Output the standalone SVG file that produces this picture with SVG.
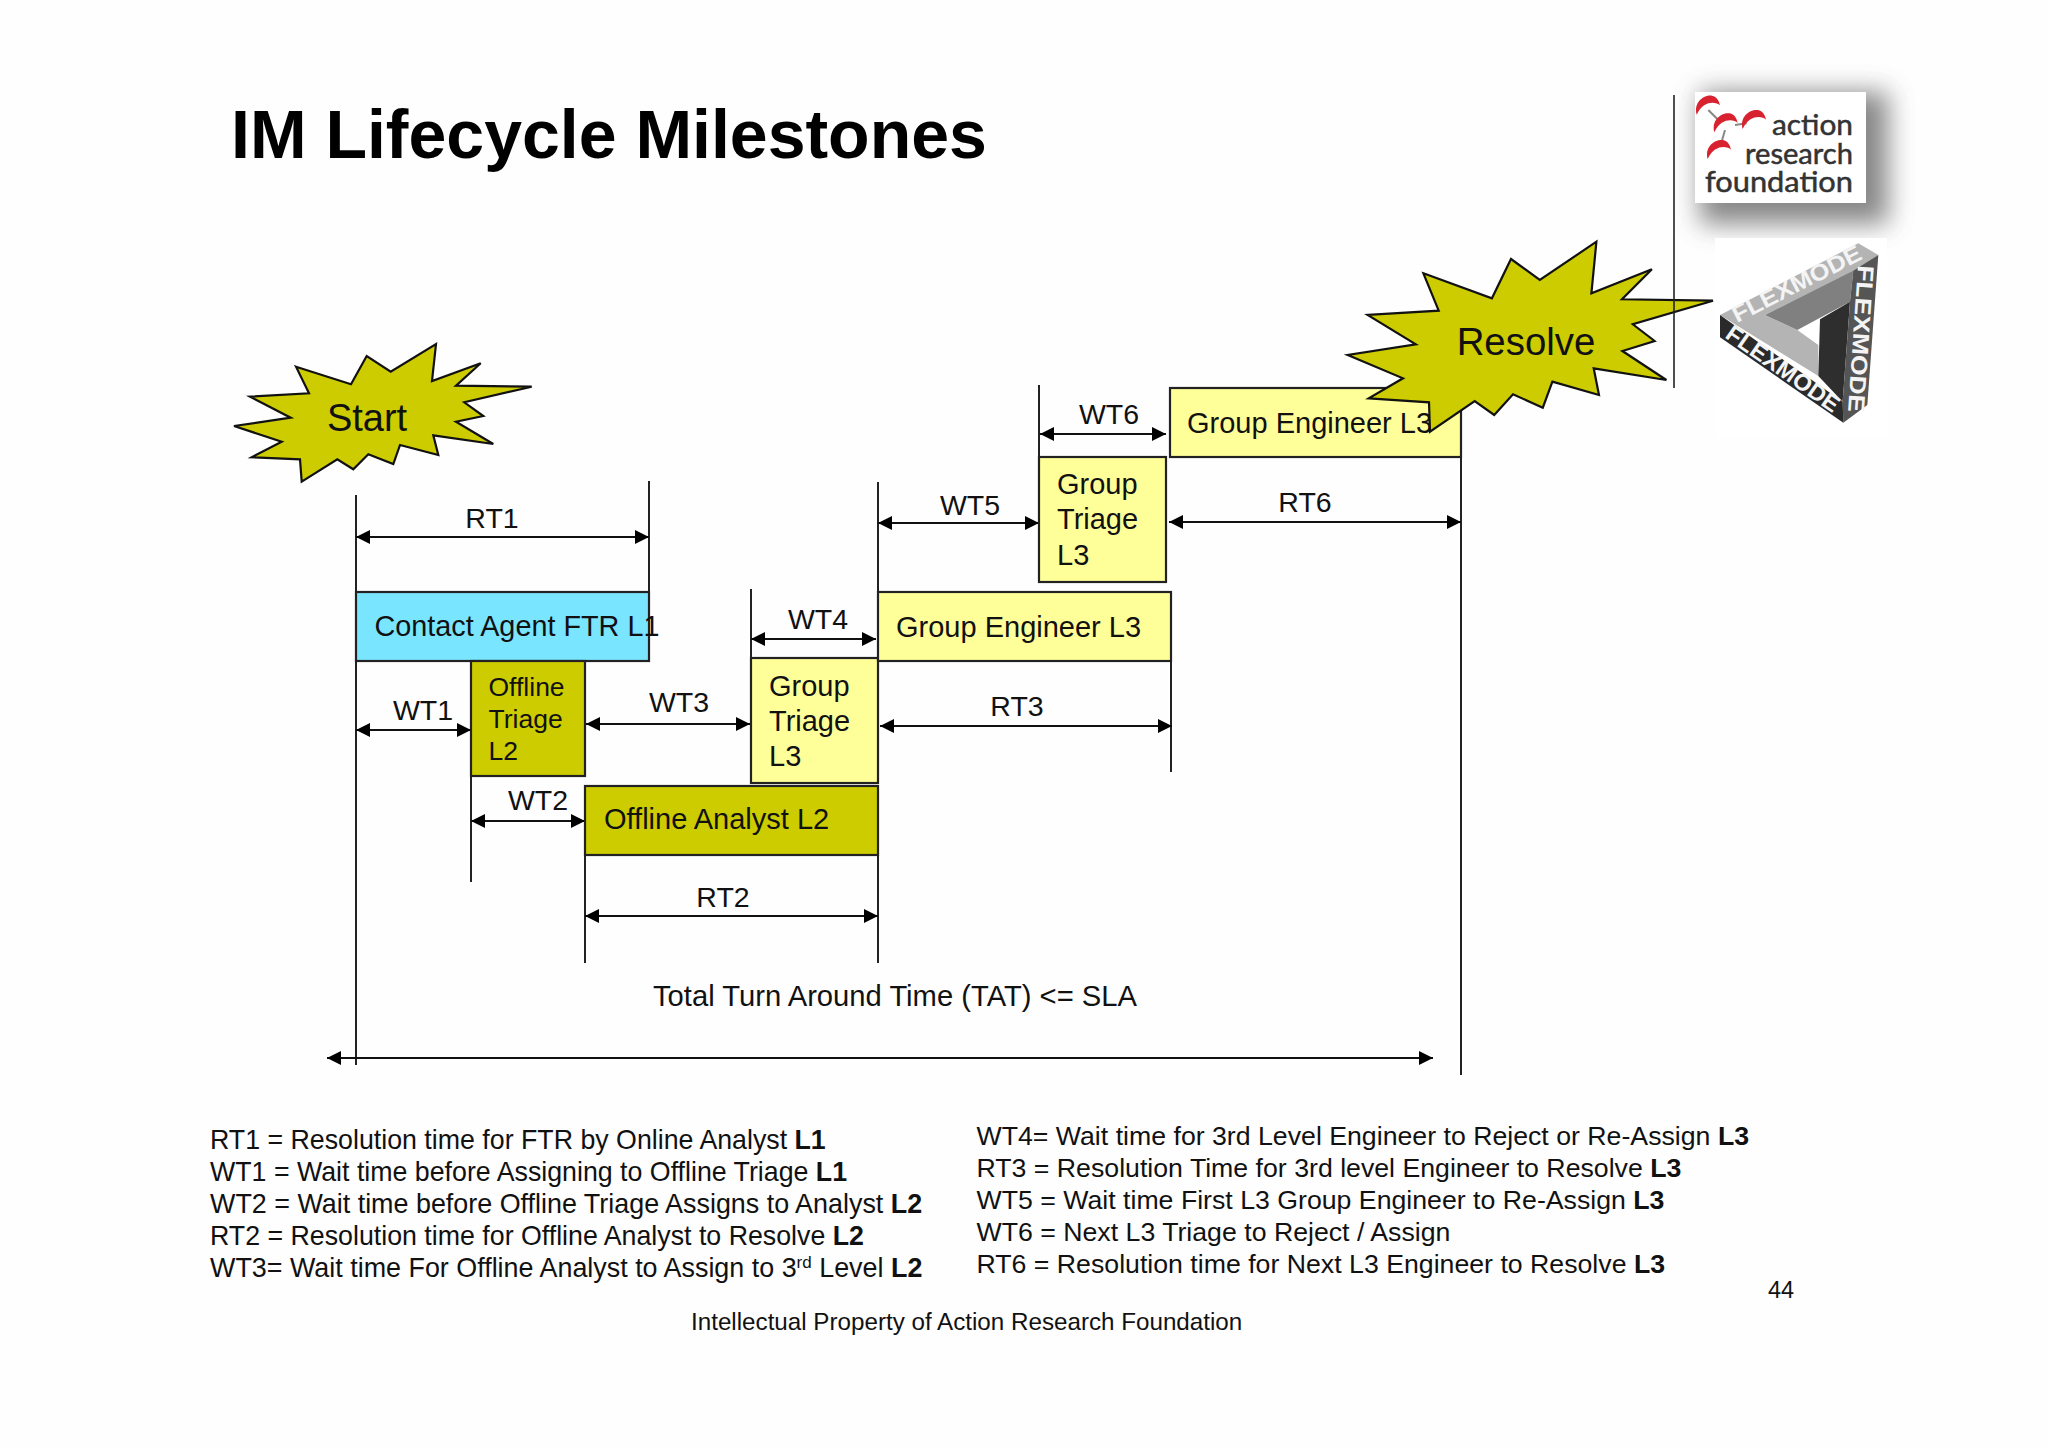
<svg xmlns="http://www.w3.org/2000/svg" width="2048" height="1448" viewBox="0 0 2048 1448">
<style>
text{font-family:"Liberation Sans",Arial,sans-serif;fill:#111}
.box{stroke:#222;stroke-width:2.2}
.cy{fill:#7ae5ff}.ol{fill:#cccc00}.ye{fill:#ffff99}
.t{font-size:29px}.t2{font-size:26.5px}.lb{font-size:28.5px;text-anchor:middle}
.star{fill:#cccc00;stroke:#111;stroke-width:2.2;stroke-linejoin:miter}
.sl{font-size:38px;text-anchor:middle}
.lg{font-size:26.75px}
.lgw{font-size:26.9px}
.lgr{font-size:26.7px}
.bd{font-weight:700}
.v{stroke:#222;stroke-width:2;fill:none}
.a{stroke:#111;stroke-width:2;fill:none;marker-start:url(#s);marker-end:url(#e)}
.fx{font-size:23px;font-weight:700;fill:#f4f4f4}
.lt{font-family:Lato,"Open Sans",sans-serif;font-size:29px;fill:#333;stroke:#333;stroke-width:.5}
</style>
<defs>
<marker id="e" markerUnits="userSpaceOnUse" markerWidth="14" markerHeight="14" refX="14" refY="7" orient="auto"><path d="M0 0L14 7L0 14Z" fill="#000"/></marker>
<marker id="s" markerUnits="userSpaceOnUse" markerWidth="14" markerHeight="14" refX="0" refY="7" orient="auto"><path d="M14 0L0 7L14 14Z" fill="#000"/></marker>
<filter id="blur" x="-30%" y="-30%" width="160%" height="160%"><feGaussianBlur stdDeviation="13"/></filter>
<path id="cres" d="M-32 22C-42 -16 -10 -38 14 -35C28 -33 36 -18 38 -6C26 -18 -12 -22 -32 22Z" fill="#d8222f"/>
</defs>
<rect width="2048" height="1448" fill="#fefefe"/>
<text id="title" x="231" y="158" font-size="68" class="bd" style="fill:#000">IM Lifecycle Milestones</text>

<g id="logo-arf">
<rect x="1700" y="92" width="188" height="132" fill="#555" opacity=".7" filter="url(#blur)"/>
<rect x="1695" y="92" width="171" height="111" fill="#fff"/>
<g transform="translate(1690 80) scale(.3333)">
<path d="M55 90L85 120M135 135L170 130M105 150L95 185" stroke="#888" stroke-width="6" fill="none"/>
<use href="#cres" x="52" y="82"/><use href="#cres" x="105" y="135"/><use href="#cres" x="190" y="125"/><use href="#cres" x="85" y="215"/>
</g>
<text class="lt" x="1772" y="135" textLength="81" lengthAdjust="spacingAndGlyphs">action</text>
<text class="lt" x="1745" y="164" textLength="108" lengthAdjust="spacingAndGlyphs">research</text>
<text class="lt" x="1705" y="192" textLength="148" lengthAdjust="spacingAndGlyphs">foundation</text>
</g>
<g id="logo-flexmode">
<rect x="1715" y="238" width="172" height="200" fill="#fff"/>
<g transform="translate(1710 230) scale(.3333)">
<path d="M30 255L445 40L505 75L430 125L165 255L262 300L325 345L325 438Z" fill="#b4b4b4"/>
<path d="M165 255L430 122L420 215L262 300Z" fill="#808080"/>
<path d="M420 215L330 268L325 438L398 515Z" fill="#2e2e2e"/>
<path d="M505 75L430 122L420 215L398 515L400 578L472 525Z" fill="#555"/>
<path d="M30 255L398 515L400 578L30 322Z" fill="#2a2a2a"/>
</g>
<text class="fx" transform="translate(1737 323) rotate(-27)" textLength="142" lengthAdjust="spacingAndGlyphs">FLEXMODE</text>
<text class="fx" transform="translate(1724 337) rotate(35)" textLength="133" lengthAdjust="spacingAndGlyphs">FLEXMODE</text>
<text class="fx" transform="translate(1858 265) rotate(93.9)" textLength="147" lengthAdjust="spacingAndGlyphs">FLEXMODE</text>
</g>

<g id="connectors">
<path class="v" d="M356 495V1065M649 481V592M471 775V882M585 853V963M878 853V963M751 589V657M878 482V591M1171 660V772M1039 385V456M1461 456V1075"/>
<path class="a" d="M356 537H649"/>
<path class="a" d="M356 730H471"/>
<path class="a" d="M586 724H750"/>
<path class="a" d="M471 821H585"/>
<path class="a" d="M585 916H878"/>
<path class="a" d="M751 639H876"/>
<path class="a" d="M880 726H1172"/>
<path class="a" d="M878 523H1039"/>
<path class="a" d="M1040 434H1166"/>
<path class="a" d="M1169 522H1461"/>
<path class="a" d="M327 1058H1433"/>
<text class="lb" x="492" y="528">RT1</text>
<text class="lb" x="423" y="720">WT1</text>
<text class="lb" x="679" y="712">WT3</text>
<text class="lb" x="538" y="810">WT2</text>
<text class="lb" x="723" y="907">RT2</text>
<text class="lb" x="818" y="629">WT4</text>
<text class="lb" x="1017" y="716">RT3</text>
<text class="lb" x="970" y="515">WT5</text>
<text class="lb" x="1109" y="424">WT6</text>
<text class="lb" x="1305" y="512">RT6</text>
<text class="lb" x="895" y="1006" style="font-size:29.2px">Total Turn Around Time (TAT) &lt;= SLA</text>
</g>

<g id="n-contact"><rect class="box cy" x="356" y="592" width="293" height="69"/><text x="374.5" y="636" style="font-size:28.8px">Contact Agent FTR L1</text></g>
<g id="n-offline-triage"><rect class="box ol" x="471" y="661" width="114" height="115"/><text class="t2" x="488.5" y="696">Offline</text><text class="t2" x="488.5" y="728">Triage</text><text class="t2" x="488.5" y="760">L2</text></g>
<g id="n-offline-analyst"><rect class="box ol" x="585" y="786" width="293" height="69"/><text class="t" x="604" y="829">Offline Analyst L2</text></g>
<g id="n-group-triage-1"><rect class="box ye" x="751" y="658" width="127" height="125"/><text class="t" x="769" y="696">Group</text><text class="t" x="769" y="731">Triage</text><text class="t" x="769" y="766">L3</text></g>
<g id="n-group-engineer-1"><rect class="box ye" x="878" y="592" width="293" height="69"/><text class="t" x="896" y="637">Group Engineer L3</text></g>
<g id="n-group-triage-2"><rect class="box ye" x="1039" y="457" width="127" height="125"/><text class="t" x="1057" y="494">Group</text><text class="t" x="1057" y="529">Triage</text><text class="t" x="1057" y="565">L3</text></g>
<g id="n-group-engineer-2"><rect class="box ye" x="1170" y="388" width="291" height="69"/><text class="t" x="1187" y="433">Group Engineer L3</text></g>

<g id="n-start"><polygon class="star" points="296,366.7 351,384.3 366.7,356 390.7,371.7 436,344 432,381 480.7,363.3 456,385.7 531.7,386.7 464.3,402.3 483.3,416 456,421.7 493.3,444 433.3,435.3 438.3,455 400,445 393.3,464 368.3,454.3 353.3,469.3 337.3,459.3 301.7,481.7 300,459.3 251.7,457.3 281.7,441.7 234,426 290.7,417.7 250,396.7 309,393.3"/><text class="sl" x="367" y="431">Start</text></g>
<g id="n-resolve"><polygon class="star" points="1423.4,273.3 1491.9,298.3 1511,259 1539.8,280 1596.4,241.7 1591.4,293.3 1651.9,269.3 1622,299.3 1713,300.7 1632.8,324.3 1654.6,341 1622.4,351 1666.4,380 1593.7,368.3 1599,395 1552.4,381.7 1542.8,407.7 1513,394.3 1494.2,415 1474.7,401 1430,431.7 1429,402.3 1368.7,398.3 1403,378.3 1347.7,355 1415.8,344.3 1367.6,315 1438.7,310.7"/><text class="sl" x="1526" y="355" style="font-size:38.4px">Resolve</text></g>
<path class="v" style="stroke-width:1.6" d="M1674 95V388"/>

<g id="legend-left">
<text class="lg" x="210" y="1149">RT1 = Resolution time for FTR by Online Analyst <tspan class="bd">L1</tspan></text>
<text class="lg" x="210" y="1181">WT1 = Wait time before Assigning to Offline Triage <tspan class="bd">L1</tspan></text>
<text class="lgw" x="210" y="1213">WT2 = Wait time before Offline Triage Assigns to Analyst <tspan class="bd">L2</tspan></text>
<text class="lg" x="210" y="1245">RT2 = Resolution time for Offline Analyst to Resolve <tspan class="bd">L2</tspan></text>
<text class="lgw" x="210" y="1277">WT3= Wait time For Offline Analyst to Assign to 3<tspan dy="-9" style="font-size:17px">rd</tspan><tspan dy="9"> Level </tspan><tspan class="bd">L2</tspan></text>
</g>
<g id="legend-right">
<text class="lgr" x="976.5" y="1145">WT4= Wait time for 3rd Level Engineer to Reject or Re-Assign <tspan class="bd">L3</tspan></text>
<text class="lgr" x="976.5" y="1177">RT3 = Resolution Time for 3rd level Engineer to Resolve <tspan class="bd">L3</tspan></text>
<text class="lgr" x="976.5" y="1209">WT5 = Wait time First L3 Group Engineer to Re-Assign <tspan class="bd">L3</tspan></text>
<text class="lgr" x="976.5" y="1241">WT6 = Next L3 Triage to Reject / Assign</text>
<text class="lgr" x="976.5" y="1273">RT6 = Resolution time for Next L3 Engineer to Resolve <tspan class="bd">L3</tspan></text>
</g>
<text x="1768" y="1298" font-size="23.5">44</text>
<text x="691" y="1330" font-size="24.2">Intellectual Property of Action Research Foundation</text>
</svg>
